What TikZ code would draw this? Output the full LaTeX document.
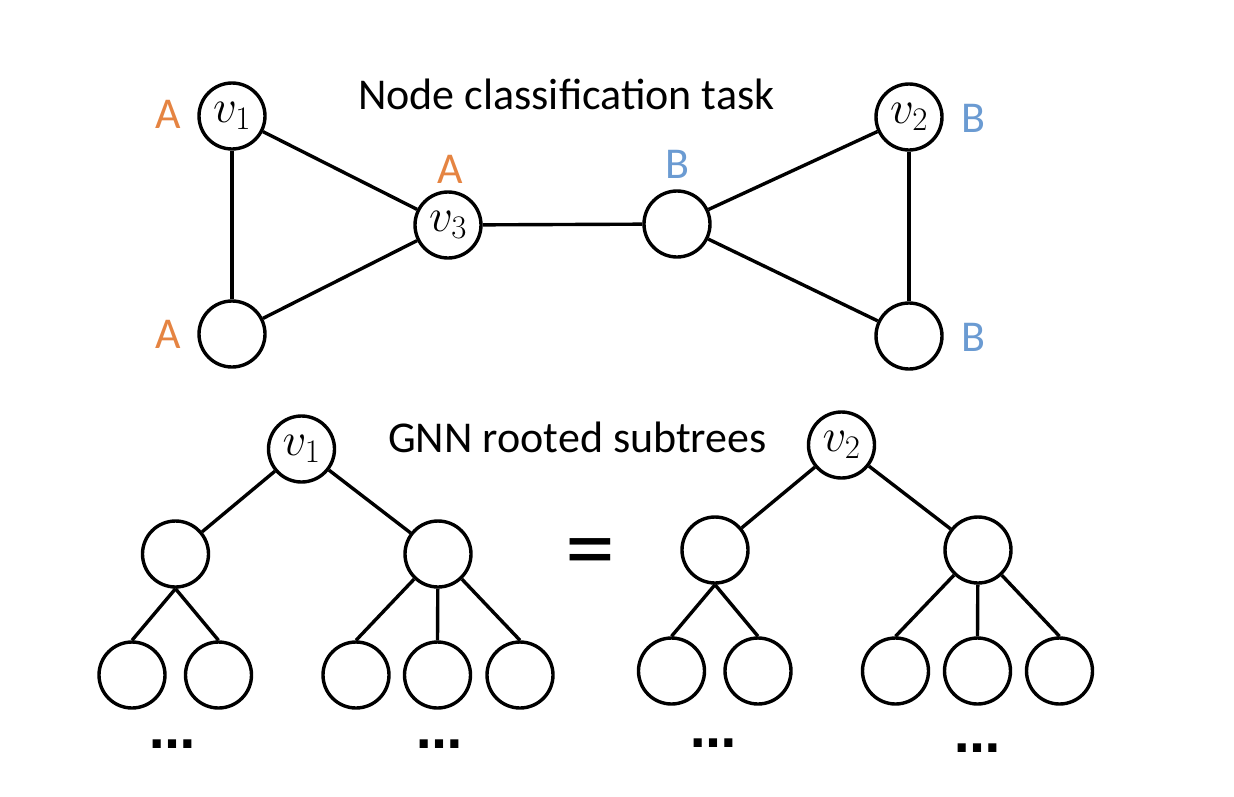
\RequirePackage{fix-cm}
\documentclass[tikz,border=0pt]{standalone}
\usepackage{fontspec}
\setmainfont{Carlito}
\newfontfamily\dotsfont{DejaVu Sans}
\definecolor{labA}{RGB}{229,132,66}
\definecolor{labB}{RGB}{107,155,210}
\begin{document}
\begin{tikzpicture}[x=1pt,y=-1pt,
  vert/.style={circle,draw=black,line width=3.4pt,minimum size=66pt,inner sep=0pt,font=\fontsize{47}{56}\selectfont},
  edge/.style={line width=3.4pt},
  lab/.style={anchor=base,inner sep=0pt,font=\fontsize{44}{53}\selectfont},
  labelA/.style={lab,text=labA},
  labelB/.style={lab,text=labB},
  dotsnode/.style={anchor=base,inner sep=0pt,font=\fontsize{46}{54}\dotsfont\bfseries},
  eqnode/.style={anchor=base,inner sep=0pt,font=\fontsize{100}{110}\selectfont}]
\useasboundingbox (0,0) rectangle (1234,796);
% top graph
\node[vert] (v1) at (232,116) {$v_1$};
\node[vert] (a1) at (232,334) {};
\node[vert] (v3) at (448,225) {$v_3$};
\node[vert] (b3) at (677,224) {};
\node[vert] (v2) at (909,117) {$v_2$};
\node[vert] (b2) at (909,336) {};
\draw[edge] (v1) -- (a1);
\draw[edge] (v1) -- (v3);
\draw[edge] (a1) -- (v3);
\draw[edge] (v3) -- (b3);
\draw[edge] (b3) -- (v2);
\draw[edge] (b3) -- (b2);
\draw[edge] (v2) -- (b2);
\node[labelA] (la1) at (168,128) {A};
\node[labelA] (la3) at (450,183) {A};
\node[labelA] (la2) at (168,348) {A};
\node[labelB] (lb3) at (677,178) {B};
\node[labelB] (lb1) at (973,132) {B};
\node[labelB] (lb2) at (973,351) {B};
\node[lab,anchor=base west] (t1) at (358,109) {Node classification task};
% tree 1
\node[vert] (r1) at (301.5,449) {$v_1$};
\node[vert] (c1) at (175.5,554) {};
\node[vert] (c2) at (438,554) {};
\node[vert] (l1) at (132,675) {};
\node[vert] (l2) at (218.5,675) {};
\node[vert] (l3) at (356,675) {};
\node[vert] (l4) at (437.5,675) {};
\node[vert] (l5) at (520,675) {};
\draw[edge] (r1) -- (c1);
\draw[edge] (r1) -- (c2);
\draw[edge] (c1.south) -- (l1.north);
\draw[edge] (c1.south) -- (l2.north);
\draw[edge] (c2) -- (l3.north);
\draw[edge] (c2) -- (l4.north);
\draw[edge] (c2) -- (l5.north);
\node[dotsnode] (d1) at (172,748) {…};
\node[dotsnode] (d2) at (439,748) {…};
\node[lab,anchor=base west] (t2) at (388,452) {GNN rooted subtrees};
\node[eqnode] (eq) at (590,581) {=};
% tree 2
\node[vert] (r2) at (841.5,445) {$v_2$};
\node[vert] (c3) at (715,550) {};
\node[vert] (c4) at (978,550) {};
\node[vert] (m1) at (671.5,671) {};
\node[vert] (m2) at (758,671) {};
\node[vert] (m3) at (895.5,671) {};
\node[vert] (m4) at (977.5,671) {};
\node[vert] (m5) at (1059.5,671) {};
\draw[edge] (r2) -- (c3);
\draw[edge] (r2) -- (c4);
\draw[edge] (c3.south) -- (m1.north);
\draw[edge] (c3.south) -- (m2.north);
\draw[edge] (c4) -- (m3.north);
\draw[edge] (c4) -- (m4.north);
\draw[edge] (c4) -- (m5.north);
\node[dotsnode] (d3) at (713,747) {…};
\node[dotsnode] (d4) at (977,752) {…};
\end{tikzpicture}
\end{document}
